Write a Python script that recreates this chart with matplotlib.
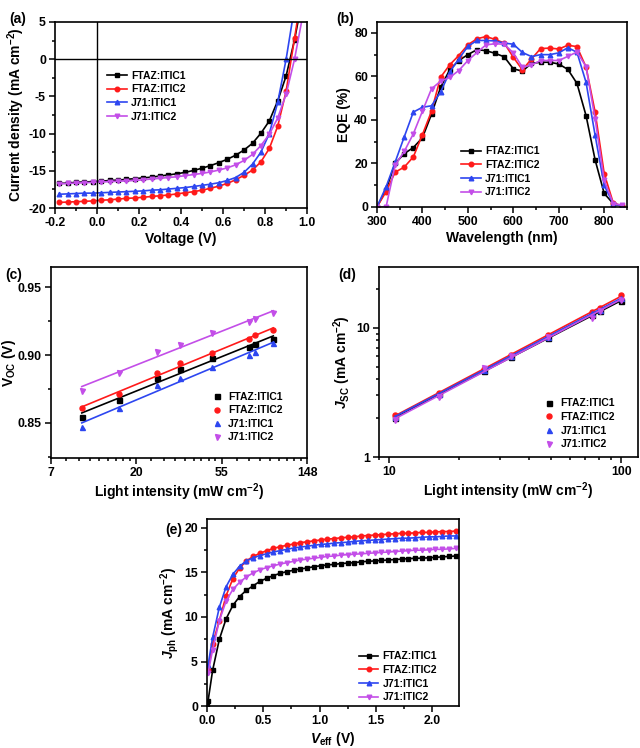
import numpy as np
import matplotlib
matplotlib.use('Agg')
import matplotlib.pyplot as plt
from matplotlib.ticker import FixedLocator, NullFormatter, FuncFormatter, LogLocator, MultipleLocator

# Fonts: bold Arial-like everywhere
plt.rcParams['font.family'] = ['Liberation Sans', 'DejaVu Sans']
plt.rcParams['font.weight'] = 'bold'
plt.rcParams['axes.labelweight'] = 'bold'
plt.rcParams['axes.unicode_minus'] = False
plt.rcParams['mathtext.fontset'] = 'custom'
plt.rcParams['mathtext.rm'] = 'Liberation Sans:bold'
plt.rcParams['mathtext.it'] = 'Liberation Sans:bold:italic'
plt.rcParams['mathtext.bf'] = 'Liberation Sans:bold'
plt.rcParams['axes.linewidth'] = 1.2

labels = ['FTAZ:ITIC1', 'FTAZ:ITIC2', 'J71:ITIC1', 'J71:ITIC2']
colors = ['#000000', '#ff1a1a', '#2d46f0', '#c34ee8']
markers = ['s', 'o', '^', 'v']

# (a) J-V curves
volt = [-0.18, -0.14, -0.10, -0.06, -0.02, 0.02, 0.06, 0.10, 0.14, 0.18,
        0.22, 0.26, 0.30, 0.34, 0.38, 0.42, 0.46, 0.50, 0.54, 0.58,
        0.62, 0.66, 0.70, 0.74, 0.78, 0.82, 0.86, 0.90, 0.94, 0.98]
jv_ftaz1 = [-16.7, -16.65, -16.55, -16.5, -16.45, -16.4, -16.3, -16.25, -16.15, -16.05,
            -15.95, -15.85, -15.7, -15.55, -15.4, -15.2, -14.95, -14.65, -14.3, -13.9,
            -13.45, -12.9, -12.2, -11.3, -9.95, -8.3, -5.6, -2.25, 2.6, 8.5]
jv_ftaz2 = [-19.25, -19.2, -19.15, -19.1, -19.05, -18.95, -18.9, -18.8, -18.7, -18.65,
            -18.55, -18.45, -18.35, -18.25, -18.1, -17.95, -17.8, -17.6, -17.35, -17.05,
            -16.7, -16.2, -15.6, -14.9, -13.8, -12.0, -9.0, -4.3, 2.8, 10.0]
jv_j711 = [-18.15, -18.1, -18.05, -18.0, -18.0, -17.95, -17.9, -17.85, -17.8, -17.75,
           -17.7, -17.6, -17.55, -17.45, -17.35, -17.25, -17.1, -16.95, -16.8, -16.6,
           -16.3, -15.9, -15.2, -14.1, -12.5, -10.0, -5.8, 0.0, 7.0, 14.0]
jv_j712 = [-16.75, -16.7, -16.65, -16.6, -16.55, -16.5, -16.45, -16.4, -16.35, -16.3,
           -16.2, -16.1, -16.0, -15.9, -15.8, -15.65, -15.5, -15.35, -15.15, -14.9,
           -14.6, -14.2, -13.6, -12.8, -11.6, -10.1, -7.9, -4.7, 0.0, 6.0]

# (b) EQE spectra
wl = [300, 320, 340, 360, 380, 400, 420, 440, 460, 480, 500, 520, 540, 560,
      580, 600, 620, 640, 660, 680, 700, 720, 740, 760, 780, 800, 820, 840]
eqe_ftaz1 = [0, 8, 20, 24.5, 27.3, 31.8, 42.6, 55, 63, 67.3, 70, 72.3, 71.8, 70.6,
             69, 63.5, 62.4, 66, 66.5, 66.5, 65.7, 63.2, 56.8, 42, 21.6, 6.2, 1.5, 0.3]
eqe_ftaz2 = [0, 7, 16, 18.3, 23, 33.2, 44, 59.6, 65.3, 69.6, 74.5, 77.3, 78.3, 77,
             75.3, 68.8, 63, 68, 72.8, 73, 72.6, 74.3, 73.7, 64.3, 43.6, 15.3, 1.8, 0.5]
eqe_j711 = [0, 9.2, 20.6, 32.2, 43.6, 45.8, 46.5, 52.8, 62, 68, 73.8, 76.5, 76.5, 76.3,
            75.3, 74.8, 71, 69.1, 70, 70, 70.8, 73.2, 71.1, 57.3, 32.9, 9.9, 1.5, 0.5]
eqe_j712 = [0, 0, 19.2, 25.5, 33.6, 44, 54.3, 57.8, 59.5, 62.7, 67.3, 71, 74.5, 75,
            74.8, 70.8, 64.2, 65.2, 67.3, 67.3, 67.3, 69.2, 71.2, 64.5, 40.5, 12.2, 1.5, 0.8]

# (c)/(d) light-intensity dependence
light = [10.6, 16.3, 25.5, 33.5, 48.5, 75.0, 80.6, 100.0]
voc_ftaz1 = [0.8544, 0.8667, 0.8828, 0.8900, 0.8975, 0.9057, 0.9080, 0.9118]
voc_ftaz2 = [0.8606, 0.8712, 0.8865, 0.8943, 0.9017, 0.9116, 0.9148, 0.9185]
voc_j711 = [0.8466, 0.8606, 0.8778, 0.8828, 0.8914, 0.9000, 0.9025, 0.9086]
voc_j712 = [0.8736, 0.8870, 0.9025, 0.9074, 0.9160, 0.9246, 0.9266, 0.9308]

jsc_ftaz1 = [2.02, 3.05, 4.6, 5.95, 8.3, 12.5, 13.4, 16.0]
jsc_ftaz2 = [2.10, 3.15, 4.8, 6.2, 8.75, 13.3, 14.2, 17.9]
jsc_j711 = [2.05, 3.10, 4.75, 6.1, 8.5, 12.9, 13.8, 17.0]
jsc_j712 = [1.92, 2.90, 4.9, 6.05, 8.5, 12.0, 13.6, 16.5]

# (e) photocurrent vs effective voltage
veff = [0.0, 0.01, 0.05, 0.11, 0.17, 0.23, 0.29, 0.35, 0.41, 0.47, 0.53,
        0.59, 0.65, 0.71, 0.77, 0.83, 0.89, 0.95, 1.01, 1.07, 1.13,
        1.19, 1.25, 1.31, 1.37, 1.43, 1.49, 1.55, 1.61, 1.67, 1.73,
        1.79, 1.85, 1.91, 1.97, 2.03, 2.09, 2.15, 2.21]
jph_ftaz1 = [0.0, 0.6, 4.0, 7.5, 9.8, 11.3, 12.3, 13.0, 13.5, 14.0, 14.35,
             14.65, 14.9, 15.1, 15.25, 15.4, 15.5, 15.65, 15.75, 15.85, 15.9,
             16.0, 16.05, 16.1, 16.2, 16.25, 16.3, 16.35, 16.4, 16.45, 16.5,
             16.55, 16.6, 16.6, 16.65, 16.7, 16.75, 16.8, 16.85]
jph_ftaz2 = [None, 4.0, 7.0, 9.6, 12.4, 14.3, 15.5, 16.3, 16.8, 17.15, 17.45,
             17.7, 17.9, 18.05, 18.2, 18.35, 18.45, 18.55, 18.65, 18.75, 18.8,
             18.9, 18.95, 19.0, 19.1, 19.15, 19.2, 19.25, 19.3, 19.35, 19.4,
             19.4, 19.45, 19.5, 19.5, 19.55, 19.6, 19.6, 19.65]
jph_j711 = [None, 4.6, 7.7, 11.1, 13.4, 14.8, 15.7, 16.3, 16.65, 16.9, 17.1,
            17.3, 17.45, 17.6, 17.75, 17.85, 17.95, 18.05, 18.15, 18.2, 18.3,
            18.35, 18.4, 18.5, 18.55, 18.6, 18.65, 18.7, 18.75, 18.8, 18.85,
            18.85, 18.9, 18.95, 19.0, 19.0, 19.05, 19.1, 19.1]
jph_j712 = [None, 3.7, 6.3, 9.6, 11.8, 13.1, 13.9, 14.5, 14.95, 15.3, 15.55,
            15.75, 15.95, 16.1, 16.25, 16.4, 16.5, 16.6, 16.7, 16.8, 16.85,
            16.95, 17.0, 17.05, 17.1, 17.15, 17.2, 17.25, 17.3, 17.35, 17.4,
            17.45, 17.5, 17.5, 17.55, 17.6, 17.6, 17.65, 17.7]


def style_axes(ax):
    # Outward ticks on left and bottom only, like the Origin export
    ax.tick_params(which='both', direction='out', top=False, right=False,
                   labelsize=8.8, width=1.1, pad=2.5)
    ax.tick_params(which='major', length=4)
    ax.tick_params(which='minor', length=2.2)
    for lab in ax.get_xticklabels() + ax.get_yticklabels():
        lab.set_fontweight('bold')


def line_legend(ax, anchor):
    ax.legend(loc='upper left', bbox_to_anchor=anchor, frameon=False,
              handlelength=1.9, handletextpad=0.4, labelspacing=0.35,
              borderaxespad=0, prop={'weight': 'bold', 'size': 7.5})


def marker_legend(ax, anchor):
    ax.legend(loc='upper left', bbox_to_anchor=anchor, frameon=False,
              handlelength=1.0, handletextpad=0.6, labelspacing=0.35,
              borderaxespad=0, prop={'weight': 'bold', 'size': 7.5})


fig = plt.figure(figsize=(6.4, 7.48), dpi=100)

# ---- (a)
ax = fig.add_axes([0.0859, 0.7219, 0.394, 0.2487])
for y, c, m, lab in zip([jv_ftaz1, jv_ftaz2, jv_j711, jv_j712], colors, markers, labels):
    ax.plot(volt, y, color=c, marker=m, ms=3.3, lw=1.2, label=lab)
ax.axhline(0, color='k', lw=1.0)
ax.axvline(0, color='k', lw=1.0)
ax.set_xlim(-0.2, 1.0)
ax.set_ylim(-20, 5)
ax.xaxis.set_major_locator(MultipleLocator(0.2))
ax.xaxis.set_minor_locator(MultipleLocator(0.1))
ax.yaxis.set_major_locator(MultipleLocator(5))
ax.yaxis.set_minor_locator(MultipleLocator(2.5))
ax.xaxis.set_major_formatter(FuncFormatter(lambda v, p: '%.1f' % v))
style_axes(ax)
ax.set_xlabel('Voltage (V)', fontsize=10, labelpad=2)
ax.set_ylabel('Current density (mA cm$^{-2}$)', fontsize=10, labelpad=1)
line_legend(ax, (0.19, 0.76))
fig.text(0.014, 0.984, '(a)', fontsize=10, fontweight='bold', va='top')

# ---- (b)
ax = fig.add_axes([0.589, 0.7233, 0.3906, 0.2473])
for y, c, m, lab in zip([eqe_ftaz1, eqe_ftaz2, eqe_j711, eqe_j712], colors, markers, labels):
    ax.plot(wl, y, color=c, marker=m, ms=3.3, lw=1.2, label=lab)
ax.set_xlim(300, 850)
ax.set_ylim(0, 85)
ax.xaxis.set_major_locator(MultipleLocator(100))
ax.xaxis.set_minor_locator(MultipleLocator(50))
ax.yaxis.set_major_locator(MultipleLocator(20))
ax.yaxis.set_minor_locator(MultipleLocator(10))
style_axes(ax)
ax.set_xlabel('Wavelength (nm)', fontsize=10, labelpad=2)
ax.set_ylabel('EQE (%)', fontsize=10, labelpad=2)
line_legend(ax, (0.32, 0.35))
fig.text(0.525, 0.984, '(b)', fontsize=10, fontweight='bold', va='top')

# ---- (c)
ax = fig.add_axes([0.0797, 0.3877, 0.4, 0.2553])
lnI = np.log(light)
for y, c, m, lab in zip([voc_ftaz1, voc_ftaz2, voc_j711, voc_j712], colors, markers, labels):
    ax.plot(light, y, ls='none', color=c, marker=m, ms=3.6, label=lab)
    k, b = np.polyfit(lnI, y, 1)
    ax.plot([light[0], light[-1]], [k * lnI[0] + b, k * lnI[-1] + b], color=c, lw=1.2)
ax.set_xscale('log', base=np.e)
ax.set_xlim(np.exp(2), np.exp(5))
ax.set_ylim(0.824, 0.965)
ax.xaxis.set_major_locator(FixedLocator([np.exp(n) for n in (2, 3, 4, 5)]))
ax.xaxis.set_major_formatter(FuncFormatter(lambda v, p: '%d' % round(v)))
ax.xaxis.set_minor_locator(LogLocator(base=np.e, subs=np.linspace(1, np.e, 10)[1:-1]))
ax.xaxis.set_minor_formatter(NullFormatter())
ax.yaxis.set_major_locator(MultipleLocator(0.05))
ax.yaxis.set_minor_locator(MultipleLocator(0.025))
style_axes(ax)
ax.set_xlabel('Light intensity (mW cm$^{-2}$)', fontsize=10, labelpad=2)
ax.set_ylabel(r'$\mathrm{V}_{\mathrm{OC}}$ (V)', fontsize=10, labelpad=0)
marker_legend(ax, (0.61, 0.37))
fig.text(0.008, 0.642, '(c)', fontsize=10, fontweight='bold', va='top')

# ---- (d)
ax = fig.add_axes([0.592, 0.389, 0.4047, 0.2545])
logI = np.log10(light)
for y, c, m, lab in zip([jsc_ftaz1, jsc_ftaz2, jsc_j711, jsc_j712], colors, markers, labels):
    ax.plot(light, y, ls='none', color=c, marker=m, ms=3.6, label=lab)
    k, b = np.polyfit(logI, np.log10(y), 1)
    ax.plot([light[0], light[-1]], [10 ** (k * logI[0] + b), 10 ** (k * logI[-1] + b)],
            color=c, lw=1.2)
ax.set_xscale('log')
ax.set_yscale('log')
ax.set_xlim(9, 118)
ax.set_ylim(1, 29.7)
ax.xaxis.set_major_formatter(FuncFormatter(lambda v, p: '%d' % round(v)))
ax.yaxis.set_major_formatter(FuncFormatter(lambda v, p: '%d' % round(v)))
ax.xaxis.set_minor_formatter(NullFormatter())
ax.yaxis.set_minor_formatter(NullFormatter())
style_axes(ax)
ax.set_xlabel('Light intensity (mW cm$^{-2}$)', fontsize=10, labelpad=2)
ax.set_ylabel(r'$J_{\mathrm{SC}}$ (mA cm$^{-2}$)', fontsize=10, labelpad=2)
marker_legend(ax, (0.62, 0.33))
fig.text(0.528, 0.642, '(d)', fontsize=10, fontweight='bold', va='top')

# ---- (e)
ax = fig.add_axes([0.3234, 0.0561, 0.394, 0.25])
for y, c, m, lab in zip([jph_ftaz1, jph_ftaz2, jph_j711, jph_j712], colors, markers, labels):
    yy = np.array(y, dtype=float)
    ax.plot(veff, yy, color=c, marker=m, ms=3.3, lw=1.2, label=lab)
ax.set_xlim(0, 2.24)
ax.set_ylim(0, 21)
ax.xaxis.set_major_locator(MultipleLocator(0.5))
ax.xaxis.set_minor_locator(MultipleLocator(0.25))
ax.yaxis.set_major_locator(MultipleLocator(5))
ax.yaxis.set_minor_locator(MultipleLocator(2.5))
style_axes(ax)
ax.set_xlabel(r'$V_{\mathrm{eff}}$ (V)', fontsize=10, labelpad=2)
ax.set_ylabel(r'$J_{\mathrm{ph}}$ (mA cm$^{-2}$)', fontsize=10, labelpad=2)
line_legend(ax, (0.585, 0.315))
fig.text(0.258, 0.301, '(e)', fontsize=10, fontweight='bold', va='top')

fig.savefig('out.png', dpi=100)
